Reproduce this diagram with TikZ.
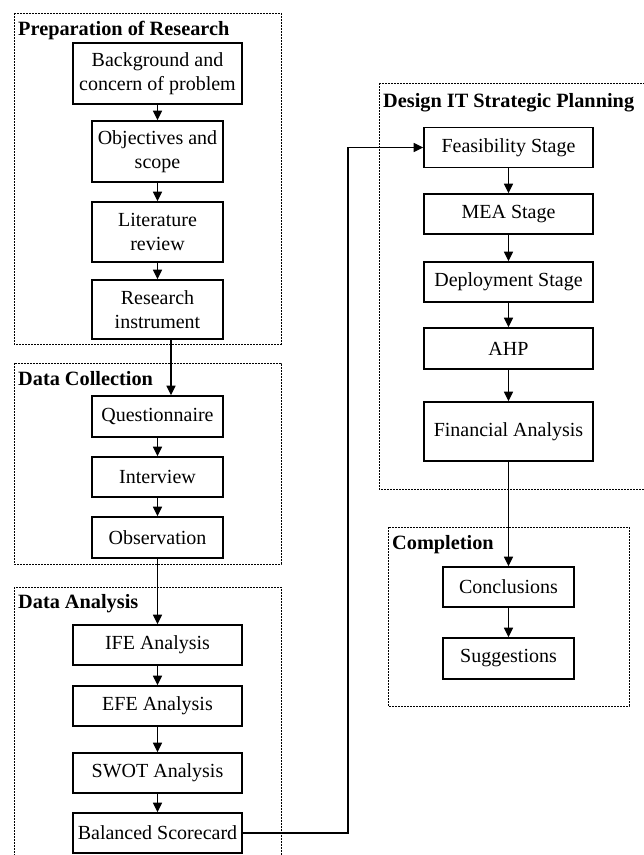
\documentclass[tikz,border=0pt]{standalone}
\usepackage{fontspec}
\setmainfont{Liberation Serif}
\usetikzlibrary{arrows.meta}
\begin{document}
\begin{tikzpicture}[x=1pt,y=-1pt,
  every node/.style={font=\fontsize{20}{24.5}\selectfont},
  group/.style={draw, line width=1pt, dash pattern=on 2pt off 1pt},
  grouptitle/.style={anchor=base west, inner sep=0pt, font=\fontsize{20.3}{24}\selectfont\bfseries},
  wbox/.style={draw, line width=1.6pt, rectangle, inner sep=0pt, minimum width=169pt, align=center},
  nbox/.style={draw, line width=1.6pt, rectangle, inner sep=0pt, minimum width=131pt, align=center},
  arr/.style={line width=1.4pt, -{Triangle[length=9.5pt,width=9pt]}}
]
\useasboundingbox (0,0) rectangle (644,855);
\clip (0,0) rectangle (644,855);
\fill[white] (0,0) rectangle (644,855);

% group frames
\draw[group] (14,13) rectangle (281,344);
\draw[group] (14,363) rectangle (281,564);
\draw[group] (14,587) rectangle (281,880);
\draw[group] (379,83) rectangle (670,489);
\draw[group] (388,527) rectangle (629,706);

% group titles
\node[grouptitle] (tprep) at (18,35) {Preparation of Research};
\node[grouptitle] (tcoll) at (18,385) {Data Collection};
\node[grouptitle] (tana) at (18,608) {Data Analysis};
\node[grouptitle] (tdes) at (383,107) {Design IT Strategic Planning};
\node[grouptitle] (tcom) at (392,549) {Completion};

% left column
\node[wbox, minimum height=61pt] (bg)  at (157.5,73.5)  {Background and\\concern of problem};
\node[nbox, minimum height=61pt] (obj) at (157.5,151.5) {Objectives and\\scope};
\node[nbox, minimum height=60pt] (lit) at (157.5,232)   {Literature\\review};
\node[nbox, minimum height=59pt] (ins) at (157.5,309.5) {Research\\instrument};
\node[nbox, minimum height=41pt] (que) at (157.5,416.5) {Questionnaire};
\node[nbox, minimum height=40pt] (int) at (157.5,477)   {Interview};
\node[nbox, minimum height=41pt] (obs) at (157.5,537.5) {Observation};
\node[wbox, minimum height=40pt] (ife) at (157.5,645)   {IFE Analysis};
\node[wbox, minimum height=40pt] (efe) at (157.5,706)   {EFE Analysis};
\node[wbox, minimum height=40pt] (swot) at (157.5,773)  {SWOT Analysis};
\node[wbox, minimum height=40pt] (bsc) at (157.5,833)   {Balanced Scorecard};

% right column
\node[wbox, minimum height=40pt] (feas) at (508.5,147.5) {Feasibility Stage};
\node[wbox, minimum height=40pt] (mea)  at (508.5,214)   {MEA Stage};
\node[wbox, minimum height=40pt] (dep)  at (508.5,282)   {Deployment Stage};
\node[wbox, minimum height=41pt] (ahp)  at (508.5,348.5) {AHP};
\node[wbox, minimum height=59pt] (fin)  at (508.5,431.5) {Financial Analysis};
\node[nbox, minimum height=40pt] (con)  at (508.5,587)   {Conclusions};
\node[nbox, minimum height=41pt] (sug)  at (508.5,658.5) {Suggestions};

% connectors
\draw[arr] (bg) -- (obj);
\draw[arr] (obj) -- (lit);
\draw[arr] (lit) -- (ins);
\draw[arr] ([xshift=13.5pt]ins.south) -- ([xshift=13.5pt]que.north);
\draw[arr] (que) -- (int);
\draw[arr] (int) -- (obs);
\draw[arr] (obs) -- (ife);
\draw[arr] (ife) -- (efe);
\draw[arr] (efe) -- (swot);
\draw[arr] (swot) -- (bsc);
\coordinate (turn) at (348,833);
\draw[arr] (bsc.east) -- (turn) |- (feas.west);
\draw[arr] (feas) -- (mea);
\draw[arr] (mea) -- (dep);
\draw[arr] (dep) -- (ahp);
\draw[arr] (ahp) -- (fin);
\draw[arr] (fin) -- (con);
\draw[arr] (con) -- (sug);
\end{tikzpicture}
\end{document}
